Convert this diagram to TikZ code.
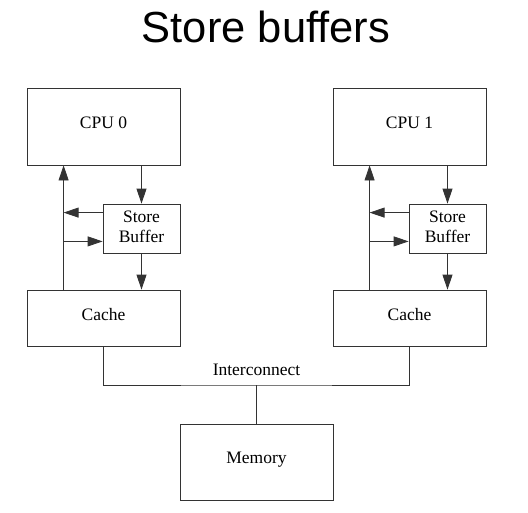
\documentclass[tikz,border=0pt]{standalone}
\usepackage{fontspec}
\setmainfont{Liberation Serif}
\newfontfamily\titlefont{Liberation Sans}
\usetikzlibrary{arrows.meta,positioning,calc}
\definecolor{sbLine}{HTML}{333333}

\begin{document}
\begin{tikzpicture}[x=1pt,y=-1pt,font=\fontsize{17.5}{19}\selectfont,
    unit/.style={draw=sbLine,line width=0.8pt,minimum width=153pt,
                 minimum height=#1,inner sep=2pt,align=center,text depth=8pt},
    unit/.default=77pt,
    sbox/.style={draw=sbLine,line width=0.8pt,minimum width=77pt,
                 minimum height=49pt,inner sep=1pt,align=center,text depth=4pt,
                 font=\fontsize{17.5}{20}\selectfont},
    arr/.style={draw=sbLine,line width=0.8pt,-{Triangle[length=15pt,width=10pt]}},
    wire/.style={draw=sbLine,line width=0.8pt}]
  \useasboundingbox (0,0) rectangle (528,512);
  \node[font=\titlefont\fontsize{43.5}{46}\selectfont] (title) at (266,27) {Store buffers};

  \foreach \i/\x in {0/103.5,1/409.5}{
    \node[unit] (cpu\i) at (\x,126.5) {CPU \i};
    \node[sbox] (sb\i) at (\x+38,228.5) {Store\\Buffer};
    \node[unit=56pt] (cache\i) at (\x,318) {Cache};
    % cpu -> store buffer -> cache
    \draw[arr] (sb\i.north |- cpu\i.south) -- (sb\i.north);
    \draw[arr] (sb\i.south) -- (sb\i.south |- cache\i.north);
    % read path back to the cpu
    \coordinate (rd\i) at ([xshift=37pt]cache\i.north west);
    \draw[arr] (rd\i) -- (rd\i |- cpu\i.south);
    \draw[arr] ([yshift=-9pt]sb\i.north west) -- ($(rd\i)!([yshift=-9pt]sb\i.north west)!(rd\i |- cpu\i.south)$);
    \draw[arr] ($(rd\i)!([yshift=12pt]sb\i.south west)!(rd\i |- cpu\i.south)$) -- ([yshift=12pt]sb\i.south west);
  }

  \node[unit=76pt] (mem) at (256.5,462) {Memory};
  \coordinate (bus) at (256.5,385);
  \draw[wire] (cache0.south) |- (bus) -| (cache1.south);
  \draw[wire] (bus) -- (mem.north);
  \node[inner sep=0pt,above=9pt of bus] (ic) {Interconnect};
\end{tikzpicture}
\end{document}
